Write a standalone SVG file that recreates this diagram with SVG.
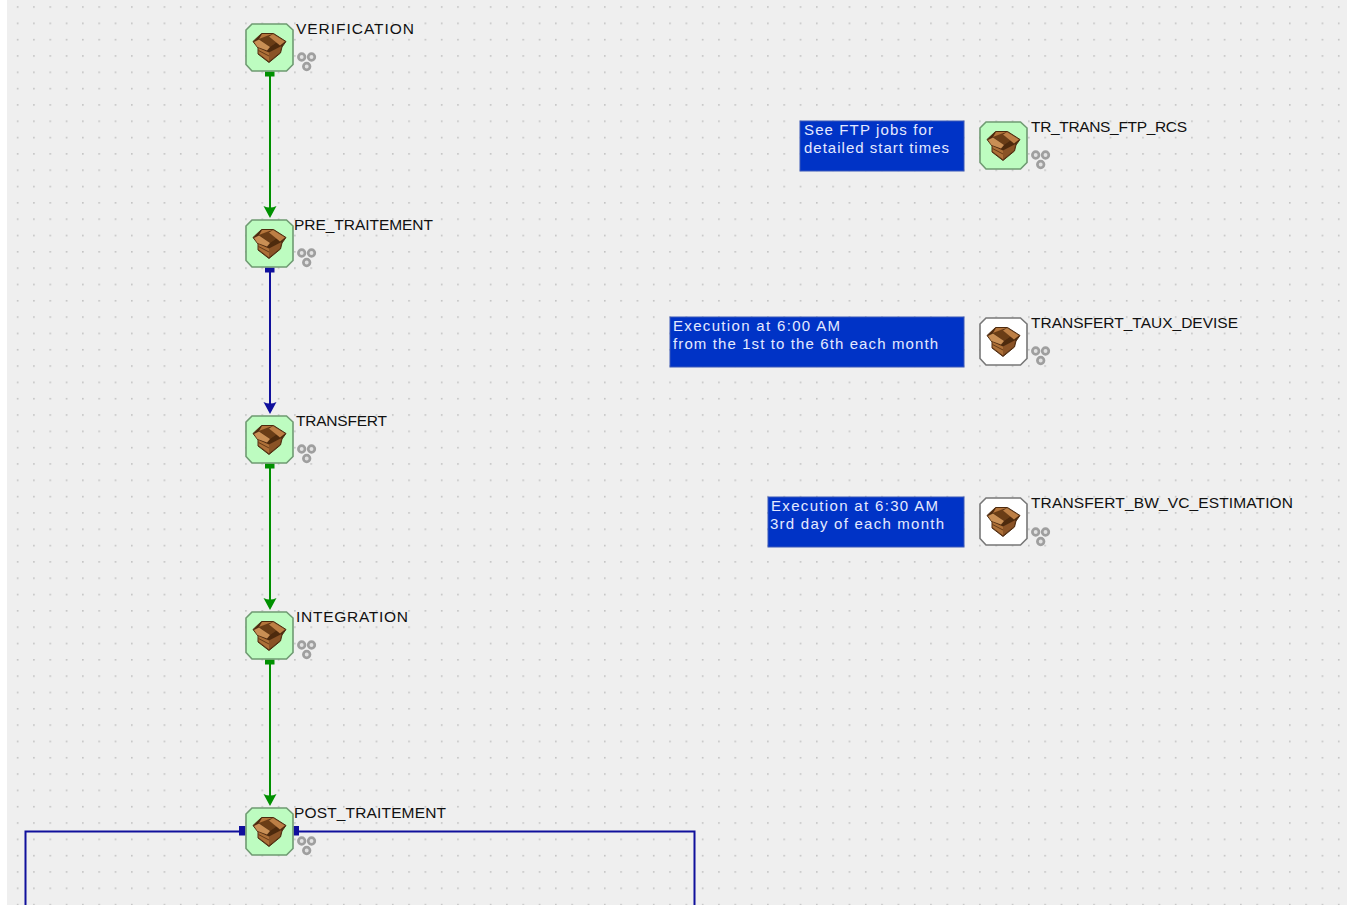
<svg xmlns="http://www.w3.org/2000/svg" width="1348" height="909" viewBox="0 0 1348 909">
<style>
.lbl{font-family:"Liberation Sans",Arial,sans-serif;font-size:15.5px;fill:#111}
.note{font-family:"Liberation Sans",Arial,sans-serif;font-size:15px;fill:#e4e9ff}
.nb{fill:#0033c6;stroke:#3a58b8;stroke-width:1}
.g{stroke:#009000;stroke-width:2;fill:none}
.b{stroke:#10109c;stroke-width:2;fill:none}
.oct{stroke:#6f9a72;stroke-width:1.6}
</style>
<defs>
<filter id="soft" x="-10%" y="-10%" width="120%" height="120%"><feGaussianBlur stdDeviation=".4"/></filter>
<pattern id="dots" x=".5" y="6.200" width="16.31" height="16.32" patternUnits="userSpaceOnUse">
<rect width="1.600" height="1.600" fill="#c2c2c2"/>
</pattern>
<g id="ico" filter="url(#soft)">
<path d="M8 18.500L16.500 10.500H28.500L41 18.500L37 24L35.500 30L24 39.500L13 31V25Z" fill="#4e2b10" stroke="#4e2b10" stroke-width="1"/>
<path d="M14 16L23 12L35 17L25 24Z" fill="#6a3d19"/>
<path d="M14 16L17 11H28L23 12.500Z" fill="#b4743a"/>
<path d="M28 11L40 18.500L35 22.500L24 13.500Z" fill="#bd7f44"/>
<path d="M9 19L14 16.500L25 24L22 27.500L12.500 24Z" fill="#c98f54"/>
<path d="M13.500 25L24 29.500V38.500L13.500 30.500Z" fill="#ad6f38"/>
<path d="M24 29.500L36.500 23L35 29.500L24 38.500Z" fill="#8a5226"/>
<path d="M13.500 27.500L24 33" stroke="#5e3514" stroke-width=".9" fill="none"/>
</g>
<g id="net" fill="#e2e2e2" stroke="#9f9f9f" stroke-width="2.700" filter="url(#soft)">
<circle cx="56.700" cy="34" r="3.300"/><circle cx="66.500" cy="34" r="3.300"/><circle cx="61.700" cy="43.500" r="3.300"/>
</g>
<path id="octp" d="M7 1H41.500L48 7V41.500L41.500 48H7L1 41.500V7Z"/>
<path id="ah" d="M-6.500 -11Q0 -8 6.500 -11L0 1Z"/>
</defs>
<rect width="1348" height="909" fill="#fff"/>
<rect x="7" y="0" width="1340" height="905" fill="#efefef"/>
<rect x="7" y="0" width="1340" height="905" fill="url(#dots)"/>
<g id="connectors">
<path class="g" d="M270 73V208"/>
<rect x="265" y="71.500" width="9.500" height="5" fill="#009000"/>
<use href="#ah" x="270" y="217" fill="#009000"/>
<path class="b" d="M270 269V404"/>
<rect x="265" y="267.500" width="9.500" height="5" fill="#10109c"/>
<use href="#ah" x="270" y="413" fill="#10109c"/>
<path class="g" d="M270 465V600"/>
<rect x="265" y="463.500" width="9.500" height="5" fill="#009000"/>
<use href="#ah" x="270" y="609" fill="#009000"/>
<path class="g" d="M270 661V796"/>
<rect x="265" y="659.500" width="9.500" height="5" fill="#009000"/>
<use href="#ah" x="270" y="805" fill="#009000"/>
<path class="b" d="M240 831.500H25.500V905"/>
<rect x="239" y="826" width="6.500" height="9.500" fill="#10109c"/>
<path class="b" d="M298 831.500H694.500V905"/>
<rect x="293.500" y="826" width="5.500" height="9.500" fill="#10109c"/>
</g>
<g id="verification"><use href="#octp" x="245" y="23" class="oct" fill="#bdfcc0"/><use href="#ico" x="245" y="23"/><use href="#net" x="245" y="23"/><text class="lbl" x="296" y="33.500" textLength="118">VERIFICATION</text></g>
<g id="pre_traitement"><use href="#octp" x="245" y="219" class="oct" fill="#bdfcc0"/><use href="#ico" x="245" y="219"/><use href="#net" x="245" y="219"/><text class="lbl" x="294" y="229.500" textLength="139">PRE_TRAITEMENT</text></g>
<g id="transfert"><use href="#octp" x="245" y="415" class="oct" fill="#bdfcc0"/><use href="#ico" x="245" y="415"/><use href="#net" x="245" y="415"/><text class="lbl" x="296" y="425.500" textLength="91">TRANSFERT</text></g>
<g id="integration"><use href="#octp" x="245" y="611" class="oct" fill="#bdfcc0"/><use href="#ico" x="245" y="611"/><use href="#net" x="245" y="611"/><text class="lbl" x="296" y="621.500" textLength="112">INTEGRATION</text></g>
<g id="post_traitement"><use href="#octp" x="245" y="807" class="oct" fill="#bdfcc0"/><use href="#ico" x="245" y="807"/><use href="#net" x="245" y="807"/><text class="lbl" x="294" y="817.500" textLength="152">POST_TRAITEMENT</text></g>
<g id="tr_trans_ftp_rcs"><rect class="nb" x="800" y="121" width="164" height="50"/><text class="note"><tspan x="804" y="135" textLength="129">See FTP jobs for</tspan><tspan x="804" y="153" textLength="145">detailed start times</tspan></text><use href="#octp" x="979" y="121" class="oct" fill="#bdfcc0"/><use href="#ico" x="979" y="121"/><use href="#net" x="979" y="121"/><text class="lbl" x="1031" y="131.500" textLength="156">TR_TRANS_FTP_RCS</text></g>
<g id="transfert_taux_devise"><rect class="nb" x="670" y="317" width="294" height="50"/><text class="note"><tspan x="673" y="331" textLength="167">Execution at 6:00 AM</tspan><tspan x="673" y="349" textLength="265">from the 1st to the 6th each month</tspan></text><use href="#octp" x="979" y="317" class="oct" fill="#fff" style="stroke:#777"/><use href="#ico" x="979" y="317"/><use href="#net" x="979" y="317"/><text class="lbl" x="1031" y="327.500" textLength="207">TRANSFERT_TAUX_DEVISE</text></g>
<g id="transfert_bw_vc_estimation"><rect class="nb" x="768" y="497" width="196" height="50"/><text class="note"><tspan x="771" y="511" textLength="167">Execution at 6:30 AM</tspan><tspan x="770" y="529" textLength="174">3rd day of each month</tspan></text><use href="#octp" x="979" y="497" class="oct" fill="#fff" style="stroke:#777"/><use href="#ico" x="979" y="497"/><use href="#net" x="979" y="498"/><text class="lbl" x="1031" y="507.500" textLength="262">TRANSFERT_BW_VC_ESTIMATION</text></g>
</svg>
